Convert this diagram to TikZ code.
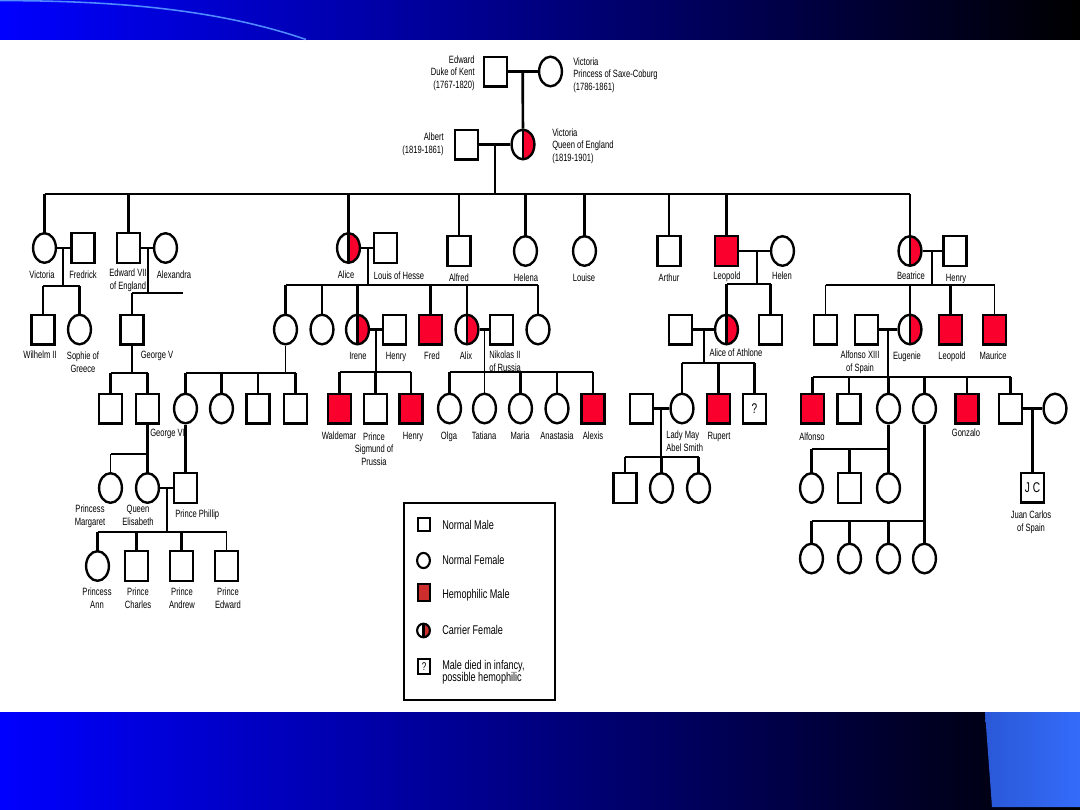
\documentclass[tikz,border=0pt]{standalone}
\usepackage{fontspec}
\setmainfont{Liberation Sans}[FakeStretch=0.72]
\usetikzlibrary{shapes.geometric}
\definecolor{hred}{RGB}{250,0,45}
\definecolor{lred}{RGB}{205,45,45}
\definecolor{lblue}{RGB}{80,140,255}
\definecolor{cblueL}{RGB}{42,88,215}
\definecolor{cblueR}{RGB}{52,108,250}
\definecolor{topblue}{RGB}{0,0,255}
\pgfdeclarelayer{bg}
\pgfsetlayers{bg,main}
\newcommand\lblfont{\fontsize{7.5pt}{8.9pt}\selectfont}
\newcommand\legfont{\fontsize{9pt}{8.8pt}\selectfont}
\begin{document}
\begin{tikzpicture}[x=0.025cm,y=-0.025cm,
 shp/.style={draw=black,line width=1.7pt,inner sep=0pt,fill=white},
 ml/.style={shp,rectangle,minimum width=0.57cm,minimum height=0.74cm},
 fm/.style={shp,ellipse,minimum width=0.57cm,minimum height=0.74cm},
 hm/.style={ml,fill=hred},
 cf/.style={fm,path picture={\fill[hred] (path picture bounding box.north) rectangle (path picture bounding box.south east); \draw[line width=1.7pt] (path picture bounding box.north) -- (path picture bounding box.south);}},
 ln/.style={line width=1.9pt},
 tn/.style={line width=1.1pt},
 lbl/.style={font=\lblfont,inner sep=0pt,align=center,anchor=base},
 leglbl/.style={font=\legfont,inner sep=0pt,align=left,anchor=base west},
 lshp/.style={draw=black,line width=1.5pt,inner sep=0pt,fill=white},
]
\useasboundingbox (0,0) rectangle (1080,810);
\begin{pgfonlayer}{bg}
\fill[white] (0,0) rectangle (1080,810);
\end{pgfonlayer}
% banners
\shade[left color=topblue,right color=black] (0,0) rectangle (1080,39.5);
\draw[lblue,line width=1.1pt] (0,0.6) .. controls (120,0.6) and (220,10) .. (306,39.5);
\shade[left color=topblue,right color=black] (0,712) rectangle (1080,810);
\shade[left color=cblueL,right color=cblueR] (985,712) .. controls (989,760) .. (992,807) -- (1080,807) -- (1080,712) -- cycle;

% ---------- generation 1 ----------
\node[ml] (ed) at (495.5,71.5) {};
\node[fm] (vp) at (550.5,71.5) {};
\coordinate (mp0) at (522.7,71.5);
% ---------- generation 2 ----------
\node[ml] (al) at (466.5,144.5) {};
\node[cf] (vq) at (523,144.5) {};
\coordinate (mp1) at (495,144.5);
\coordinate (bar1) at (0,194);
% ---------- children of Victoria ----------
\node[fm] (vic) at (44.5,248) {};
\node[ml] (fre) at (83,248) {};
\node[ml] (e7) at (128.5,248) {};
\node[fm] (alx) at (165.5,248) {};
\node[cf] (ali) at (348.5,248) {};
\node[ml] (lou) at (385.5,248) {};
\node[ml] (alf) at (459,251) {};
\node[fm] (hel) at (525.5,251) {};
\node[fm] (lse) at (584.5,251) {};
\node[ml] (art) at (669,251) {};
\node[hm] (leo) at (726.5,251) {};
\node[fm] (hln) at (782.5,251) {};
\node[cf] (bea) at (910,251) {};
\node[ml] (hen) at (955,251) {};
% ---------- generation 3 ----------
\coordinate (mpVic) at (63,248);  \coordinate (barVic) at (0,286);
\node[ml] (wil) at (43,329.5) {};
\node[fm] (sop) at (79.5,329.5) {};
\coordinate (mpE7) at (148,248);  \coordinate (barE7) at (0,293);
\coordinate (e7end) at (183,293);
\node[ml] (g5) at (132,329.5) {};
\coordinate (mpAli) at (368,248); \coordinate (barAli) at (0,285);
\node[fm] (vh) at (285.5,329.5) {};
\node[fm] (c2) at (322,329.5) {};
\node[cf] (ire) at (357.5,329.5) {};
\node[ml] (hy) at (394.5,329.5) {};
\node[hm] (fred) at (430.5,329.5) {};
\node[cf] (alix) at (467,329.5) {};
\node[ml] (nik) at (501.5,329.5) {};
\node[fm] (c6) at (538,329.5) {};
\coordinate (mpLeo) at (757,251); \coordinate (barLeo) at (0,284);
\node[ml] (ath) at (680.5,329.5) {};
\node[cf] (aoa) at (726.5,329.5) {};
\node[ml] (lsq) at (770.5,329.5) {};
\coordinate (mpBea) at (932,251); \coordinate (barBea) at (0,285);
\node[ml] (b1) at (825.5,329.5) {};
\node[ml] (a13) at (866.5,329.5) {};
\node[cf] (eug) at (910,329.5) {};
\node[hm] (bleo) at (950.5,329.5) {};
\node[hm] (mau) at (994.5,329.5) {};
% ---------- generation 4 ----------
\coordinate (barG5) at (0,373);
\node[ml] (k5a) at (110.5,408.5) {};
\node[ml] (g6) at (147.5,408.5) {};
\coordinate (barVh) at (0,373);
\node[fm] (aob) at (185.5,408.5) {};
\node[fm] (v2) at (221.5,408.5) {};
\node[ml] (v3) at (258,408.5) {};
\node[ml] (v4) at (295.5,408.5) {};
\coordinate (mpIre) at (376,329.5); \coordinate (barIre) at (0,372);
\node[hm] (wal) at (339.5,408.5) {};
\node[ml] (sig) at (375.5,408.5) {};
\node[hm] (hnr) at (411,408.5) {};
\coordinate (mpAlix) at (484.5,329.5); \coordinate (barAlix) at (0,372);
\node[fm] (olg) at (449.5,408.5) {};
\node[fm] (tat) at (484.5,408.5) {};
\node[fm] (mar) at (520.5,408.5) {};
\node[fm] (ana) at (557,408.5) {};
\node[hm] (alexis) at (593,408.5) {};
\coordinate (mpAoa) at (704,329.5); \coordinate (barAoa) at (0,363);
\node[ml] (lmh) at (641.5,408.5) {};
\node[fm] (lmy) at (682,408.5) {};
\node[hm] (rup) at (718.5,408.5) {};
\node[ml,font=\fontsize{10pt}{10pt}\selectfont] (unk) at (754.5,408.5) {?};
\coordinate (mpEug) at (888,329.5); \coordinate (barEug) at (0,377);
\node[hm] (alfo) at (812.5,408.5) {};
\node[ml] (s2) at (849,408.5) {};
\node[fm] (f3) at (888.5,408.5) {};
\node[fm] (f4) at (924.5,408.5) {};
\node[hm] (gon) at (967,408.5) {};
\node[ml] (s6) at (1010.5,408.5) {};
\node[fm] (w6) at (1055,408.5) {};
% ---------- generation 5 ----------
\coordinate (barG6) at (0,454);
\node[fm] (mgt) at (110.5,488) {};
\node[fm] (eli) at (147.5,488) {};
\node[ml] (phl) at (185.5,488) {};
\coordinate (mpLmy) at (661,408.5); \coordinate (barLmy) at (0,457);
\node[ml] (k1) at (625,488) {};
\node[fm] (k2) at (661.5,488) {};
\node[fm] (k3) at (698.5,488) {};
\coordinate (barF3) at (0,449);
\node[fm] (g31) at (811.5,488) {};
\node[ml] (g32) at (849.5,488) {};
\node[fm] (g33) at (888.5,488) {};
\coordinate (mpS6) at (1032.5,408.5);
\node[ml,font=\fontsize{10pt}{10pt}\selectfont] (jc) at (1032.5,487.5) {J C};
% ---------- generation 6 ----------
\coordinate (mpEli) at (167,488); \coordinate (barEli) at (0,532);
\node[fm] (ann) at (97.5,566) {};
\node[ml] (cha) at (136.5,566) {};
\node[ml] (andr) at (181.5,566) {};
\node[ml] (edw) at (226.5,566) {};
\coordinate (barF4) at (0,521);
\node[fm] (h1) at (811.5,558.5) {};
\node[fm] (h2) at (849.5,558.5) {};
\node[fm] (h3) at (888.5,558.5) {};
\node[fm] (h4) at (924.5,558.5) {};

% ---------- connectors ----------
\begin{pgfonlayer}{bg}
\draw[ln] (ed) -- (vp);
\draw[ln] (mp0) -- (vq);
\draw[ln] (al) -- (vq);
\draw[ln] (mp1) -- (mp1 |- bar1);
\draw[ln] (vic.center |- bar1) -- (bea.center |- bar1);
\foreach \c in {vic,e7,ali,alf,hel,lse,art,leo,bea} \draw[ln] (\c.center |- bar1) -- (\c.center);
% Victoria + Fredrick
\draw[ln] (vic) -- (fre);
\draw[ln] (mpVic) -- (mpVic |- barVic);
\draw[ln] (wil.center |- barVic) -- (sop.center |- barVic);
\foreach \c in {wil,sop} \draw[ln] (\c.center |- barVic) -- (\c.center);
% Edward VII + Alexandra
\draw[ln] (e7) -- (alx);
\draw[ln] (mpE7) -- (mpE7 |- barE7);
\draw[ln] (g5.center |- barE7) -- (e7end);
\draw[ln] (g5.center |- barE7) -- (g5.center);
% Alice + Louis
\draw[ln] (ali) -- (lou);
\draw[ln] (mpAli) -- (mpAli |- barAli);
\draw[ln] (vh.center |- barAli) -- (c6.center |- barAli);
\foreach \c in {vh,c2,ire,fred,alix,c6} \draw[ln] (\c.center |- barAli) -- (\c.center);
% Irene + Henry
\draw[ln] (ire) -- (hy);
\draw[ln] (mpIre) -- (mpIre |- barIre);
\draw[ln] (wal.center |- barIre) -- (hnr.center |- barIre);
\foreach \c in {wal,sig,hnr} \draw[ln] (\c.center |- barIre) -- (\c.center);
% Alix + Nikolas
\draw[ln] (alix) -- (nik);
\draw[tn] (mpAlix) -- (tat);
\draw[ln] (olg.center |- barAlix) -- (alexis.center |- barAlix);
\foreach \c in {olg,mar,ana,alexis} \draw[ln] (\c.center |- barAlix) -- (\c.center);
% Leopold + Helen
\draw[ln] (leo) -- (hln);
\draw[ln] (mpLeo) -- (mpLeo |- barLeo);
\draw[ln] (aoa.center |- barLeo) -- (lsq.center |- barLeo);
\foreach \c in {aoa,lsq} \draw[ln] (\c.center |- barLeo) -- (\c.center);
% Alice of Athlone
\draw[ln] (ath) -- (aoa);
\draw[ln] (mpAoa) -- (mpAoa |- barAoa);
\draw[ln] (lmy.center |- barAoa) -- (unk.center |- barAoa);
\draw[tn] (lmy.center |- barAoa) -- (lmy.center);
\foreach \c in {rup,unk} \draw[ln] (\c.center |- barAoa) -- (\c.center);
% Lady May
\draw[ln] (lmh) -- (lmy);
\draw[ln] (mpLmy) -- (mpLmy |- barLmy);
\draw[ln] (k1.center |- barLmy) -- (k3.center |- barLmy);
\draw[tn] (k1.center |- barLmy) -- (k1.center);
\foreach \c in {k2,k3} \draw[ln] (\c.center |- barLmy) -- (\c.center);
% Beatrice + Henry
\draw[ln] (bea) -- (hen);
\draw[ln] (mpBea) -- (mpBea |- barBea);
\draw[ln] (b1.center |- barBea) -- (mau.center |- barBea);
\foreach \c in {b1,eug,mau} \draw[tn] (\c.center |- barBea) -- (\c.center);
\draw[ln] (bleo.center |- barBea) -- (bleo.center);
% Eugenie + Alfonso XIII
\draw[ln] (a13) -- (eug);
\draw[ln] (mpEug) -- (mpEug |- barEug);
\draw[ln] (alfo.center |- barEug) -- (s6.center |- barEug);
\foreach \c in {alfo,s2,f3,f4,s6} \draw[ln] (\c.center |- barEug) -- (\c.center);
\draw[tn] (gon.center |- barEug) -- (gon.center);
% son + wife -> Juan Carlos
\draw[ln] (s6) -- (w6);
\draw[ln] (mpS6) -- (jc);
% f3 children
\draw[ln] (f3) -- (g33);
\draw[ln] (g31.center |- barF3) -- (g33.center |- barF3);
\foreach \c in {g31,g32} \draw[ln] (\c.center |- barF3) -- (\c.center);
% f4 children
\draw[ln] (f4) -- (h4);
\draw[ln] (h1.center |- barF4) -- (h4.center |- barF4);
\foreach \c in {h1,h2,h3} \draw[ln] (\c.center |- barF4) -- (\c.center);
% George V
\draw[ln] (g5) -- (g5.center |- barG5);
\draw[ln] (k5a.center |- barG5) -- (g6.center |- barG5);
\foreach \c in {k5a,g6} \draw[ln] (\c.center |- barG5) -- (\c.center);
% Victoria of Hesse
\draw[tn] (vh) -- (vh.center |- barVh);
\draw[ln] (aob.center |- barVh) -- (v4.center |- barVh);
\foreach \c in {aob,v2,v3,v4} \draw[ln] (\c.center |- barVh) -- (\c.center);
% George VI
\draw[ln] (g6) -- (g6.center |- barG6);
\draw[ln] (mgt.center |- barG6) -- (eli.center |- barG6);
\draw[tn] (mgt.center |- barG6) -- (mgt.center);
\draw[ln] (eli.center |- barG6) -- (eli.center);
% Alice of Battenberg -> Phillip
\draw[ln] (aob) -- (phl);
% Elisabeth + Phillip
\draw[ln] (eli) -- (phl);
\draw[ln] (mpEli) -- (mpEli |- barEli);
\draw[ln] (ann.center |- barEli) -- (edw.center |- barEli);
\foreach \c in {ann,cha,andr} \draw[ln] (\c.center |- barEli) -- (\c.center);
\draw[tn] (edw.center |- barEli) -- (edw.center);
\end{pgfonlayer}

% ---------- labels (multi-line: base = last line) ----------
\node[lbl,align=right,anchor=base east] (tEd) at (475,88.5) {Edward\\Duke of Kent\\(1767-1820)};
\node[lbl,align=left,anchor=base west] (tVp) at (573,90.5) {Victoria\\Princess of Saxe-Coburg\\(1786-1861)};
\node[lbl,align=right,anchor=base east] (tAl) at (444,153.5) {Albert\\(1819-1861)};
\node[lbl,align=left,anchor=base west] (tVq) at (552,161.5) {Victoria\\Queen of England\\(1819-1901)};
\node[lbl] (tVic) at (42,278.5) {Victoria};
\node[lbl] (tFre) at (83,278.5) {Fredrick};
\node[lbl] (tE7) at (128,289.5) {Edward VII\\of England};
\node[lbl] (tAlx) at (174,278.5) {Alexandra};
\node[lbl] (tAli) at (346,278.5) {Alice};
\node[lbl] (tLou) at (399,279.5) {Louis of Hesse};
\node[lbl] (tAlf) at (459,281.5) {Alfred};
\node[lbl] (tHel) at (526,281.5) {Helena};
\node[lbl] (tLse) at (584,281.5) {Louise};
\node[lbl] (tArt) at (669,281.5) {Arthur};
\node[lbl] (tLeo) at (727,279.5) {Leopold};
\node[lbl] (tHln) at (782,279.5) {Helen};
\node[lbl] (tBea) at (911,279.5) {Beatrice};
\node[lbl] (tHen) at (956,281.5) {Henry};
\node[lbl] (tWil) at (40,358.5) {Wilhelm II};
\node[lbl] (tSop) at (83,372.5) {Sophie of\\Greece};
\node[lbl] (tG5) at (157,358.5) {George V};
\node[lbl] (tIre) at (358,359.5) {Irene};
\node[lbl] (tHy) at (396,359.5) {Henry};
\node[lbl] (tFred) at (432,359.5) {Fred};
\node[lbl] (tAlix) at (466,359.5) {Alix};
\node[lbl,align=left,anchor=base west] (tNik) at (489,371.5) {Nikolas II\\of Russia};
\node[lbl] (tAoa) at (736,356.5) {Alice of Athlone};
\node[lbl] (tA13) at (860,371.5) {Alfonso XIII\\of Spain};
\node[lbl] (tEug) at (907,359.5) {Eugenie};
\node[lbl] (tBleo) at (952,359.5) {Leopold};
\node[lbl] (tMau) at (993,359.5) {Maurice};
\node[lbl] (tWal) at (339,439.5) {Waldemar};
\node[lbl] (tSig) at (374,465.5) {Prince\\Sigmund of\\Prussia};
\node[lbl] (tHnr) at (413,439.5) {Henry};
\node[lbl] (tOlg) at (449,439.5) {Olga};
\node[lbl] (tTat) at (484,439.5) {Tatiana};
\node[lbl] (tMar) at (520,439.5) {Maria};
\node[lbl] (tAna) at (557,439.5) {Anastasia};
\node[lbl] (tAlexis) at (593,439.5) {Alexis};
\node[lbl,align=left,anchor=base west] (tLmy) at (666,451.5) {Lady May\\Abel Smith};
\node[lbl] (tRup) at (719,439.5) {Rupert};
\node[lbl] (tAlfo) at (812,440.5) {Alfonso};
\node[lbl] (tGon) at (966,436.5) {Gonzalo};
\node[lbl,anchor=base west] (tG6) at (150,436.5) {George VI};
\node[lbl] (tMgt) at (90,525.5) {Princess\\Margaret};
\node[lbl] (tEli) at (138,525.5) {Queen\\Elisabeth};
\node[lbl,anchor=base west] (tPhl) at (175,517.5) {Prince Phillip};
\node[lbl] (tJc) at (1031,531.5) {Juan Carlos\\of Spain};
\node[lbl] (tAnn) at (97,608.5) {Princess\\Ann};
\node[lbl] (tCha) at (138,608.5) {Prince\\Charles};
\node[lbl] (tAndr) at (182,608.5) {Prince\\Andrew};
\node[lbl] (tEdw) at (228,608.5) {Prince\\Edward};

% ---------- legend ----------
\node[draw=black,line width=1.8pt,minimum width=3.77cm,minimum height=4.92cm,inner sep=0pt] (leg) at (479.5,601.5) {};
\node[lshp,rectangle,minimum width=0.3cm,minimum height=0.32cm] (lgm) at (424,524.5) {};
\node[lshp,ellipse,minimum width=0.32cm,minimum height=0.38cm] (lgf) at (423.5,560.5) {};
\node[lshp,rectangle,fill=lred,minimum width=0.3cm,minimum height=0.42cm] (lgh) at (424,592.5) {};
\node[lshp,ellipse,minimum width=0.32cm,minimum height=0.34cm,path picture={\fill[lred] (path picture bounding box.north) rectangle (path picture bounding box.south east); \draw[line width=1.5pt] (path picture bounding box.north) -- (path picture bounding box.south);}] (lgc) at (423.5,630.5) {};
\node[lshp,rectangle,minimum width=0.3cm,minimum height=0.38cm,font=\fontsize{8pt}{8pt}\selectfont] (lgq) at (424,666.5) {?};
\node[leglbl] (tlm) at (442,529.5) {Normal Male};
\node[leglbl] (tlf) at (442,564.5) {Normal Female};
\node[leglbl] (tlh) at (442,598.5) {Hemophilic Male};
\node[leglbl] (tlc) at (442,634.5) {Carrier Female};
\node[leglbl] (tlq) at (442,681.5) {Male died in infancy,\\possible hemophilic};
\end{tikzpicture}
\end{document}
